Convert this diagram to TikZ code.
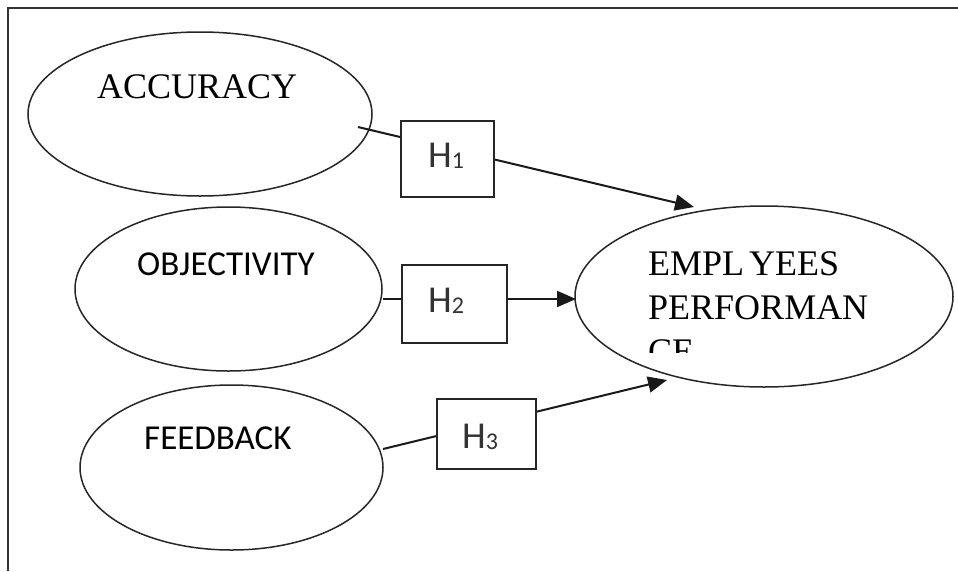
\documentclass[tikz,border=0pt]{standalone}
\usepackage{fontspec}
\setmainfont{Liberation Serif}
\newfontfamily\calfont{Carlito}
\usetikzlibrary{shapes.geometric,arrows.meta}
\tikzset{
  oval/.style={draw=black!85, line width=1.5pt, ellipse, inner sep=0pt, outer sep=0pt, fill=white},
  hbox/.style={draw=black!85, line width=2pt, rectangle, inner sep=0pt, outer sep=0pt, fill=white},
  conn/.style={draw=black!90, line width=2pt},
  arr/.style={conn, -{Triangle[length=19pt,width=16pt]}},
  serif/.style={inner sep=0pt, anchor=base west, font=\fontsize{36}{44}\selectfont},
  sans/.style={inner sep=0pt, anchor=base west, font=\calfont\fontsize{35}{42}\selectfont},
  hlab/.style={inner sep=0pt, anchor=base west, font=\calfont\fontsize{38}{42}\selectfont, text=black!80},
  frame/.style={draw=black!80, line width=2pt}
}
\newcommand{\hsub}[1]{H\raisebox{-1.5pt}{\fontsize{24}{24}\selectfont #1}}
\begin{document}
\begin{tikzpicture}[x=1pt,y=-1pt]
\useasboundingbox (0,0) rectangle (958,571);
% frame (top and left only)
\coordinate (fr1) at (958,8);
\coordinate (fr2) at (8,8);
\coordinate (fr3) at (8,571);
\draw[frame] (fr1) -- (fr2) -- (fr3);

% ellipses
\node[oval, minimum width=344pt, minimum height=164pt] (acc) at (200,114) {};
\node[oval, minimum width=307pt, minimum height=164pt] (obj) at (228.5,289) {};
\node[oval, minimum width=303pt, minimum height=165pt] (fee) at (231.5,467.5) {};
\node[oval, minimum width=378pt, minimum height=181pt] (emp) at (764,296.5) {};

% texts
\node[serif] (tacc) at (97,98) {ACCURACY};
\node[sans] (tobj) at (137,275) {OBJECTIVITY};
\node[sans] (tfee) at (144,449) {FEEDBACK};
\node[serif] (temp1) at (648,275) {EMPL\kern5pt YEES};
\node[serif] (temp2) at (648,319) {PERFORMAN};
\begin{scope}
  \clip (640,330) rectangle (760,352);
  \node[serif] (temp3) at (648,363) {CE};
\end{scope}

% connectors
\coordinate (a1s) at (358,127);
\coordinate (a1e) at (694,207);
\coordinate (a2s) at (383,299);
\coordinate (a2e) at (576,299);
\coordinate (a3s) at (383,449);
\coordinate (a3e) at (667,380);
\draw[arr] (a1s) -- (a1e);
\draw[arr] (a2s) -- (a2e);
\draw[arr] (a3s) -- (a3e);

% hypothesis boxes
\node[hbox, minimum width=93pt, minimum height=76pt] (h1) at (447.5,159) {};
\node[hbox, minimum width=105pt, minimum height=78pt] (h2) at (454.5,304) {};
\node[hbox, minimum width=99pt, minimum height=70pt] (h3) at (486.5,434) {};
\node[hlab] (th1) at (428,167) {\hsub{1}};
\node[hlab] (th2) at (428,312) {\hsub{2}};
\node[hlab] (th3) at (462,448) {\hsub{3}};
\end{tikzpicture}
\end{document}
